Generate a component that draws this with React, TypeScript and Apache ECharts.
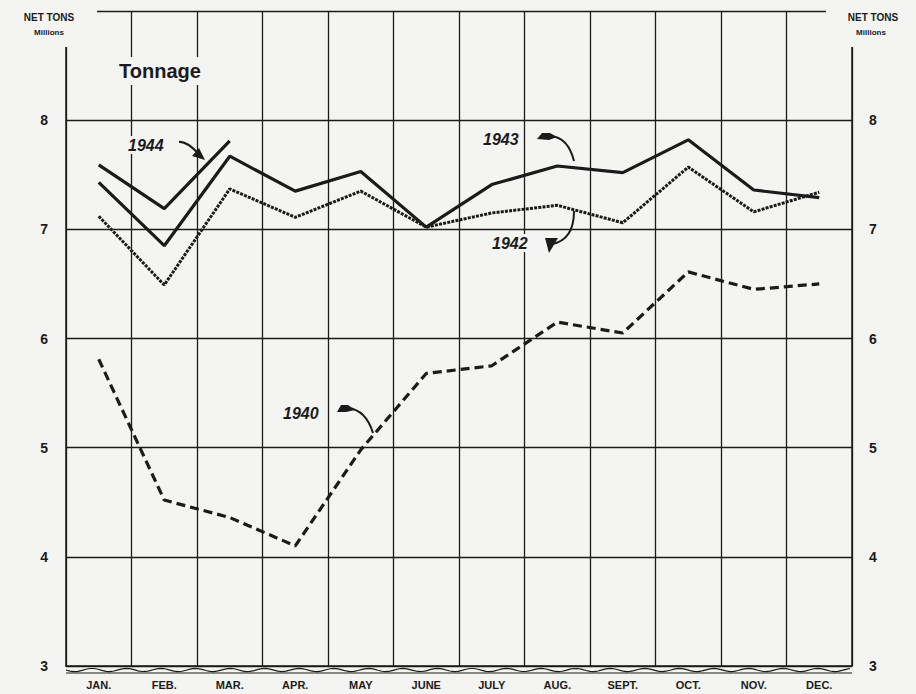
import React, { useEffect, useRef } from "react";
import * as echarts from "echarts";

const months = ["JAN.", "FEB.", "MAR.", "APR.", "MAY", "JUNE", "JULY", "AUG.", "SEPT.", "OCT.", "NOV.", "DEC."];
const yTicks = [3, 4, 5, 6, 7, 8];
const tons1944 = [7.59, 7.19, 7.81, null, null, null, null, null, null, null, null, null];
const tons1943 = [7.43, 6.85, 7.67, 7.35, 7.53, 7.02, 7.41, 7.58, 7.52, 7.82, 7.36, 7.29];
const tons1942 = [7.12, 6.49, 7.37, 7.11, 7.35, 7.02, 7.15, 7.22, 7.06, 7.57, 7.16, 7.34];
const tons1940 = [5.81, 4.52, 4.36, 4.1, 4.98, 5.68, 5.75, 6.15, 6.05, 6.61, 6.45, 6.5];

const BG = "#f4f4f2";
const INK = "#1b1b1b";
const FONT = "Liberation Sans, Arial, sans-serif";

function wavePoints(x0: number, x1: number, y: number) {
  const pts: number[][] = [];
  for (let x = x0; x <= x1; x += 4) {
    pts.push([x, y + 1.6 * Math.sin((x - x0) / 5.5)]);
  }
  return pts;
}

function yearLabel(text: string, x: number, y: number) {
  return {
    type: "text",
    z: 120,
    style: {
      text,
      x,
      y,
      font: `italic bold 16px ${FONT}`,
      fill: INK,
      textVerticalAlign: "middle",
      backgroundColor: BG,
      padding: [1, 2],
    },
  };
}

function curve(x1: number, y1: number, cx: number, cy: number, x2: number, y2: number, w = 2) {
  return {
    type: "bezierCurve",
    z: 121,
    shape: { x1, y1, x2, y2, cpx1: cx, cpy1: cy },
    style: { stroke: INK, lineWidth: w, fill: "none" },
  };
}

function wedge(points: number[][]) {
  return {
    type: "polygon",
    z: 121,
    shape: { points },
    style: { fill: INK },
  };
}

export default function App() {
  const ref = useRef<HTMLDivElement>(null);
  useEffect(() => {
    if (!ref.current) return;
    const chart = echarts.init(ref.current, undefined, { renderer: "svg" });
    const yLabel = {
      show: true,
      color: INK,
      fontWeight: "bold" as const,
      fontSize: 14,
      fontFamily: FONT,
      formatter: (v: number) => (yTicks.includes(v) ? String(v) : ""),
    };
    const lineCommon = { type: "line", symbol: "none", smooth: false, connectNulls: false };
    chart.setOption({
      animation: false,
      backgroundColor: BG,
      grid: { left: 66, right: 64, top: 11, bottom: 28, containLabel: false },
      xAxis: {
        type: "category",
        data: months,
        boundaryGap: true,
        axisLine: { show: true, lineStyle: { color: INK, width: 1.5 } },
        axisTick: { show: false },
        splitLine: { show: true, interval: 0, lineStyle: { color: INK, width: 1.3 } },
        axisLabel: {
          interval: 0,
          margin: 13,
          color: INK,
          fontWeight: "bold",
          fontSize: 11,
          fontFamily: FONT,
        },
      },
      yAxis: [
        {
          type: "value",
          min: 3,
          max: 9,
          interval: 1,
          position: "left",
          axisLine: { show: true, lineStyle: { color: INK, width: 1.5 } },
          axisTick: { show: false },
          splitLine: { show: true, lineStyle: { color: INK, width: 1.3 } },
          axisLabel: { ...yLabel, margin: 18 },
        },
        {
          type: "value",
          min: 3,
          max: 9,
          interval: 1,
          position: "right",
          axisLine: { show: true, lineStyle: { color: INK, width: 1.5 } },
          axisTick: { show: false },
          splitLine: { show: false },
          axisLabel: { ...yLabel, margin: 17 },
        },
      ],
      series: [
        { ...lineCommon, name: "1944", data: tons1944, lineStyle: { color: INK, width: 3.2 } },
        { ...lineCommon, name: "1943", data: tons1943, lineStyle: { color: INK, width: 3.2 } },
        {
          ...lineCommon,
          name: "1942",
          data: tons1942,
          lineStyle: { color: INK, width: 3, type: [3, 1.2] },
        },
        {
          ...lineCommon,
          name: "1940",
          data: tons1940,
          lineStyle: { color: INK, width: 3.2, type: [9, 5] },
        },
      ],
      graphic: [
        { type: "rect", z: 100, shape: { x: 0, y: 0, width: 97, height: 47 }, style: { fill: BG } },
        { type: "rect", z: 100, shape: { x: 826, y: 0, width: 90, height: 47 }, style: { fill: BG } },
        {
          type: "text",
          z: 110,
          style: { text: "NET TONS", x: 49, y: 17, font: `bold 10px ${FONT}`, fill: INK, textAlign: "center", textVerticalAlign: "middle" },
        },
        {
          type: "text",
          z: 110,
          style: { text: "Millions", x: 49, y: 32, font: `bold 8px ${FONT}`, fill: INK, textAlign: "center", textVerticalAlign: "middle" },
        },
        {
          type: "text",
          z: 110,
          style: { text: "NET TONS", x: 873, y: 17, font: `bold 10px ${FONT}`, fill: INK, textAlign: "center", textVerticalAlign: "middle" },
        },
        {
          type: "text",
          z: 110,
          style: { text: "Millions", x: 871, y: 32, font: `bold 8px ${FONT}`, fill: INK, textAlign: "center", textVerticalAlign: "middle" },
        },
        {
          type: "text",
          z: 110,
          style: {
            text: "Tonnage",
            x: 117,
            y: 71,
            font: `bold 20px ${FONT}`,
            fill: INK,
            textVerticalAlign: "middle",
            backgroundColor: BG,
            padding: [4, 2],
          },
        },
        {
          type: "polyline",
          z: 110,
          shape: { points: wavePoints(66, 852, 670) },
          style: { stroke: INK, lineWidth: 1.2, fill: "none" },
        },
        {
          type: "line",
          z: 110,
          shape: { x1: 66, y1: 673, x2: 852, y2: 673 },
          style: { stroke: INK, lineWidth: 1 },
        },
        yearLabel("1944", 126, 145),
        curve(179, 142, 186, 141, 198, 153, 2.2),
        wedge([[205, 160], [192, 156], [199, 148]]),
        yearLabel("1943", 481, 139),
        wedge([[537, 139], [542, 133], [550, 133], [557, 137], [549, 140]]),
        curve(550, 136, 568, 137, 574, 161),
        yearLabel("1942", 490, 243),
        wedge([[545, 238], [558, 238], [549, 253]]),
        curve(552, 244, 574, 240, 574, 211),
        yearLabel("1940", 281, 413),
        wedge([[337, 412], [341, 405], [348, 405], [355, 410], [346, 412]]),
        curve(348, 408, 366, 410, 373, 433),
      ],
    });
    return () => chart.dispose();
  }, []);
  return (
    <div
      ref={ref}
      style={{ position: "fixed", left: 0, top: 0, width: 916, height: 694, margin: 0 }}
    />
  );
}
